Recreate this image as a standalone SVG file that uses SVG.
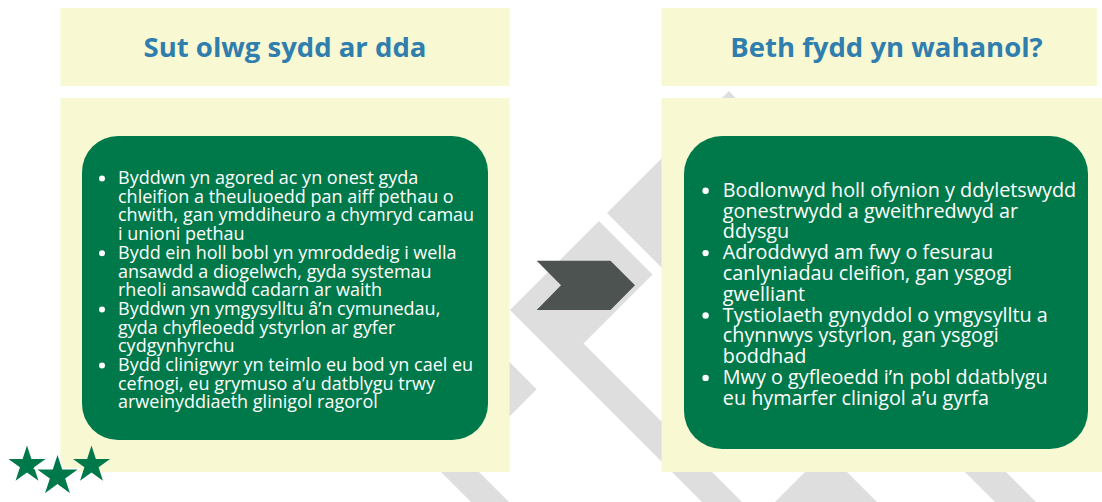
<svg xmlns="http://www.w3.org/2000/svg" width="1102" height="502" viewBox="0 0 1102 502">
<style>
.bgs{fill:#DEDEDE}
.pan{fill:#F8F8D3}
.card{fill:#00794A}
.title{font-family:"Open Sans","Noto Sans",sans-serif;font-weight:700;font-size:27.5px;fill:#2F7EAD;text-anchor:middle}
.txtL{font-family:"Open Sans","Noto Sans",sans-serif;font-size:18px;fill:#FFFFFF}
.txtR{font-family:"Open Sans","Noto Sans",sans-serif;font-size:19.8px;fill:#FFFFFF}
.dot{fill:#FFFFFF}
.star{fill:#00794A}
.chev{fill:#4D5350}
</style>
<rect width="1102" height="502" fill="#FFFFFF"/>
<g id="background">
<polygon class="bgs" points="729,91 607,213 680,286 800,166"/>
<polygon class="bgs" points="510,310 599,221 652.5,274.5 583.5,343.5 800,560 760,560"/>
<polygon class="bgs" points="480,332.5 536.7,389.3 480,446"/>
<polygon class="bgs" points="420,451 458,451 520,513 482,513"/>
<polygon class="bgs" points="826,451 726,551 926,551"/>
<polygon class="bgs" points="945,452 986,452 1086,552 1045,552"/>
</g>
<g id="panel-left">
<rect class="pan" x="60.5" y="8" width="449" height="78"/>
<text class="title" x="285" y="57">Sut olwg sydd ar dda</text>
<rect class="pan" x="60.5" y="98" width="449" height="374"/>
<rect class="card" x="82" y="136" width="406" height="304" rx="36" ry="36"/>
<circle class="dot" cx="102" cy="178.5" r="3"/>
<circle class="dot" cx="102" cy="253.3" r="3"/>
<circle class="dot" cx="102" cy="309.4" r="3"/>
<circle class="dot" cx="102" cy="365.5" r="3"/>
<text class="txtL">
<tspan x="118" y="184">Byddwn yn agored ac yn onest gyda</tspan>
<tspan x="118" y="202.7">chleifion a theuluoedd pan aiff pethau o</tspan>
<tspan x="118" y="221.4">chwith, gan ymddiheuro a chymryd camau</tspan>
<tspan x="118" y="240.1">i unioni pethau</tspan>
<tspan x="118" y="258.8">Bydd ein holl bobl yn ymroddedig i wella</tspan>
<tspan x="118" y="277.5">ansawdd a diogelwch, gyda systemau</tspan>
<tspan x="118" y="296.2">rheoli ansawdd cadarn ar waith</tspan>
<tspan x="118" y="314.9">Byddwn yn ymgysylltu â’n cymunedau,</tspan>
<tspan x="118" y="333.6">gyda chyfleoedd ystyrlon ar gyfer</tspan>
<tspan x="118" y="352.3">cydgynhyrchu</tspan>
<tspan x="118" y="371">Bydd clinigwyr yn teimlo eu bod yn cael eu</tspan>
<tspan x="118" y="389.7">cefnogi, eu grymuso a’u datblygu trwy</tspan>
<tspan x="118" y="408.4">arweinyddiaeth glinigol ragorol</tspan>
</text>
</g>
<g id="panel-right">
<rect class="pan" x="661.5" y="8" width="435.5" height="78"/>
<text class="title" x="886.5" y="57">Beth fydd yn wahanol?</text>
<rect class="pan" x="661.5" y="98" width="441" height="374"/>
<rect class="card" x="684" y="136" width="404" height="313" rx="38" ry="38"/>
<circle class="dot" cx="705.6" cy="190.7" r="3.2"/>
<circle class="dot" cx="705.6" cy="253.1" r="3.2"/>
<circle class="dot" cx="705.6" cy="315.5" r="3.2"/>
<circle class="dot" cx="705.6" cy="377.9" r="3.2"/>
<text class="txtR">
<tspan x="722.8" y="196.7">Bodlonwyd holl ofynion y ddyletswydd</tspan>
<tspan x="722.8" y="217.5">gonestrwydd a gweithredwyd ar</tspan>
<tspan x="722.8" y="238.3">ddysgu</tspan>
<tspan x="722.8" y="259.1">Adroddwyd am fwy o fesurau</tspan>
<tspan x="722.8" y="279.9">canlyniadau cleifion, gan ysgogi</tspan>
<tspan x="722.8" y="300.7">gwelliant</tspan>
<tspan x="722.8" y="321.5">Tystiolaeth gynyddol o ymgysylltu a</tspan>
<tspan x="722.8" y="342.3">chynnwys ystyrlon, gan ysgogi</tspan>
<tspan x="722.8" y="363.1">boddhad</tspan>
<tspan x="722.8" y="383.9">Mwy o gyfleoedd i’n pobl ddatblygu</tspan>
<tspan x="722.8" y="404.7">eu hymarfer clinigol a’u gyrfa</tspan>
</text>
</g>
<g id="connectors">
<polygon class="chev" points="536.7,260.7 610.5,260.7 635,285.3 610.5,310 536.7,310 561,285.3"/>
</g>
<g id="stars">
<polygon class="star" points="27,445.5 31.38,458.97 45.55,458.97 34.09,467.3 38.46,480.78 27,472.45 15.54,480.78 19.91,467.3 8.45,458.97 22.62,458.97"/>
<polygon class="star" points="91.5,445.5 95.88,458.97 110.05,458.97 98.59,467.3 102.96,480.78 91.5,472.45 80.04,480.78 84.41,467.3 72.95,458.97 87.12,458.97"/>
<polygon class="star" stroke="#FFFFFF" stroke-width="1.5" stroke-linejoin="miter" points="57.5,452.5 62.78,468.74 79.85,468.74 66.04,478.77 71.31,495.01 57.5,484.98 43.69,495.01 48.96,478.77 35.15,468.74 52.22,468.74"/>
</g>
</svg>
